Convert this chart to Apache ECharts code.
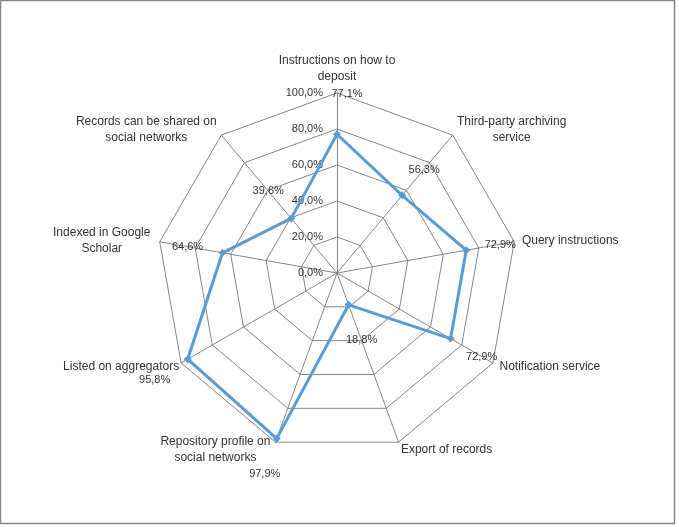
<!DOCTYPE html>
<html>
<head>
<meta charset="utf-8">
<script src="https://cdn.jsdelivr.net/npm/echarts@6/dist/echarts.min.js"></script>
<style>html,body{margin:0;padding:0;background:#fff}#c{width:679px;height:527px}</style>
</head>
<body>
<div id="c"></div>
<script>
// Data in clockwise order starting at top
var categories = [
  'Instructions on how to\ndeposit',
  'Third-party archiving\nservice',
  'Query instructions',
  'Notification service',
  'Export of records',
  'Repository profile on\nsocial networks',
  'Listed on aggregators',
  'Indexed in Google\nScholar',
  'Records can be shared on\nsocial networks'
];
var values = [77.1, 56.3, 72.9, 72.9, 18.8, 97.9, 95.8, 64.6, 39.6];
var tickValues = [0, 20, 40, 60, 80, 100];

var CX = 337, CY = 273, R = 180;
var FONT = 'Liberation Sans';
var TXT = '#333333';
var n = categories.length;
var step = 360 / n;

// ECharts radar places indicators counter-clockwise; reorder so they read clockwise
var order = [0];
for (var k = n - 1; k >= 1; k--) order.push(k);
var indicator = order.map(function (i) { return { name: categories[i], min: 0, max: 100 }; });
var radarValues = order.map(function (i) { return values[i]; });

function pct(v) { return v.toFixed(1).replace('.', ',') + '%'; }

// label offsets (layout only)
var valueOffsets = [[10,-40],[22,-25],[34,-5],[31,18],[13,35],[-12,35],[-33,21],[-35,-6],[-23,-27]];
var nameOffsets = [[0,-24],[59,-5],[56,-1],[57,4],[48,8],[-60,8],[-60,4],[-58,-1],[-75,-5]];

var valueLabelData = values.map(function (v, i) {
  return { value: [v, i * step], label: { offset: valueOffsets[i] } };
});
var nameLabelData = categories.map(function (c, i) {
  return { value: [100, i * step], name: c, label: { offset: nameOffsets[i] } };
});

var chart = echarts.init(document.getElementById('c'), null, { renderer: 'canvas' });
chart.setOption({
  animation: false,
  backgroundColor: '#fff',
  graphic: [{
    type: 'rect', shape: { x: 0.5, y: 0.5, width: 674, height: 523 },
    style: { fill: 'none', stroke: '#868686', lineWidth: 1.5 }, silent: true
  }],
  radar: {
    center: [CX, CY], radius: R, startAngle: 90, splitNumber: 5,
    shape: 'polygon',
    indicator: indicator,
    axisName: { show: false },
    axisLine: { lineStyle: { color: '#868686', width: 1 } },
    splitLine: { lineStyle: { color: '#868686', width: 1 } },
    splitArea: { show: false },
    axisTick: { show: false },
    axisLabel: { show: false }
  },
  polar: { center: [CX, CY], radius: R },
  angleAxis: {
    type: 'value', min: 0, max: 360, startAngle: 90, clockwise: true,
    show: false
  },
  radiusAxis: {
    type: 'value', min: 0, max: 100, interval: 20,
    axisLine: { show: false }, axisTick: { show: false }, splitLine: { show: false },
    axisLabel: {
      show: true, margin: 14, color: TXT, fontFamily: FONT, fontSize: 11,
      formatter: function (v) { return pct(v); }
    }
  },
  series: [
    {
      type: 'radar',
      symbol: 'diamond', symbolSize: 8,
      lineStyle: { color: '#5B9BD5', width: 3 },
      itemStyle: { color: '#5B9BD5' },
      data: [{ value: radarValues }]
    },
    {
      type: 'scatter', coordinateSystem: 'polar', symbolSize: 0, silent: true,
      itemStyle: { opacity: 1 },
      data: valueLabelData,
      label: {
        show: true, position: 'inside', color: TXT, fontFamily: FONT, fontSize: 11,
        formatter: function (p) { return pct(p.value[0]); }
      }
    },
    {
      type: 'scatter', coordinateSystem: 'polar', symbolSize: 0, silent: true,
      itemStyle: { opacity: 1 },
      data: nameLabelData,
      label: {
        show: true, position: 'inside', color: TXT, fontFamily: FONT, fontSize: 12,
        lineHeight: 16, align: 'center',
        formatter: function (p) { return p.name; }
      }
    }
  ]
});
</script>
</body>
</html>
